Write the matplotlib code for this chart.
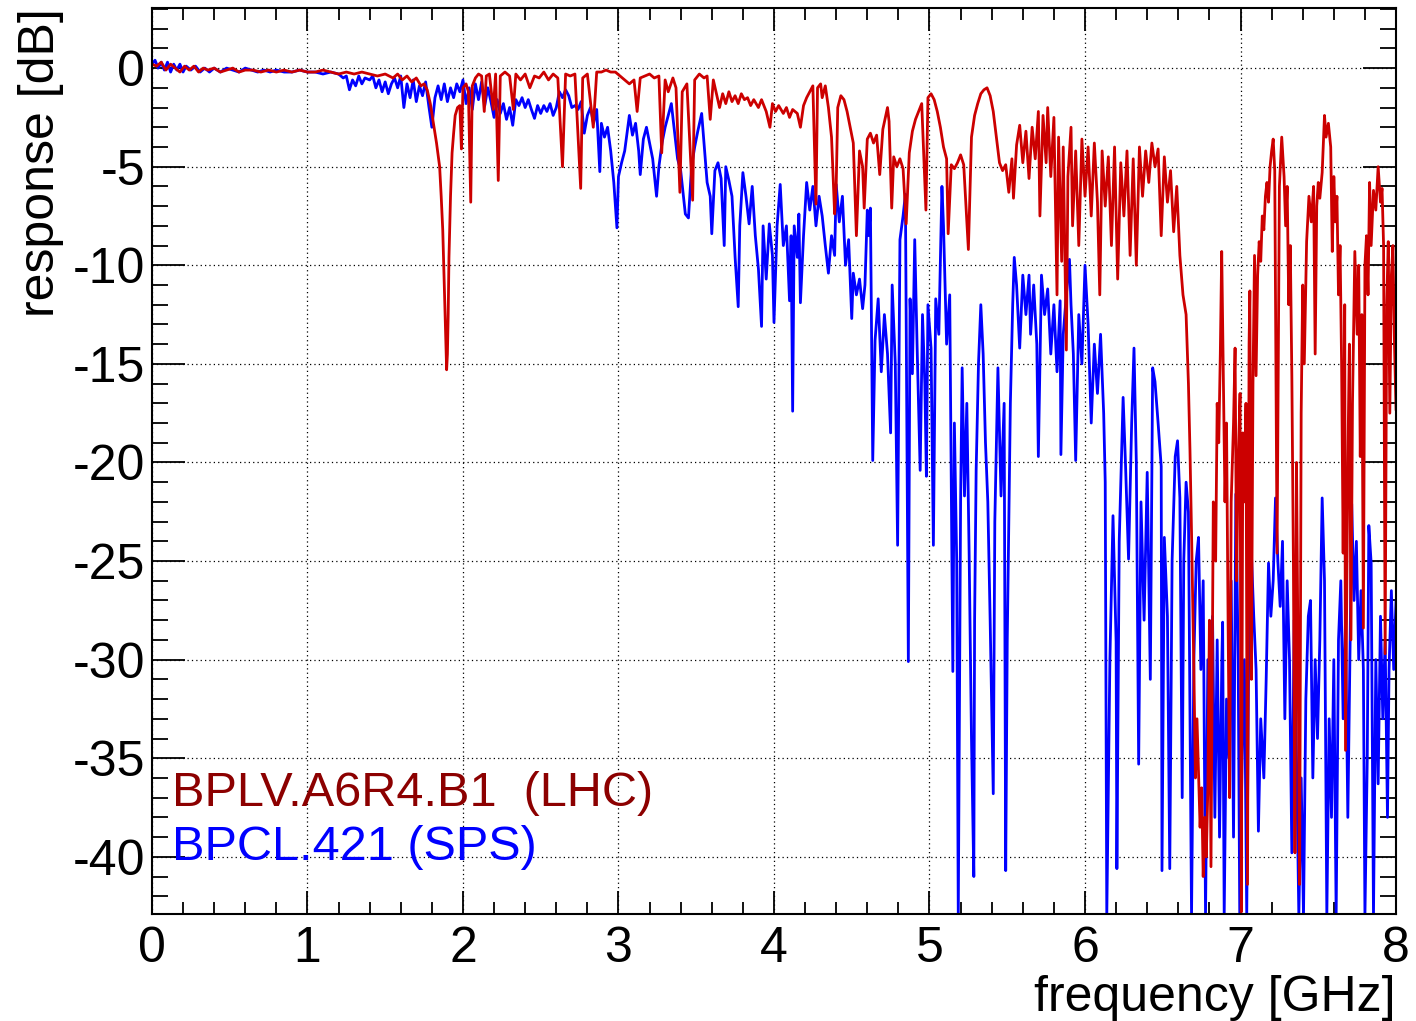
import matplotlib
matplotlib.use("Agg")
import matplotlib.pyplot as plt
from matplotlib.ticker import MultipleLocator

# LHC pick-up response, (frequency [GHz], response [dB])
lhc_points = [
  (0.00, 0.2), (0.03, 0.1), (0.06, 0.3), (0.09, -0.1), (0.12, 0.2), (0.15, 0.0), (0.18, -0.2),
  (0.21, 0.1), (0.24, -0.1), (0.27, 0.1), (0.30, -0.2), (0.33, 0.0), (0.36, -0.1), (0.40, 0.0),
  (0.44, -0.2), (0.48, -0.1), (0.52, 0.0), (0.56, -0.2), (0.60, -0.1), (0.65, -0.1), (0.70, -0.2),
  (0.75, -0.1), (0.80, -0.2), (0.85, -0.1), (0.90, -0.2), (0.95, -0.1), (1.00, -0.2), (1.05, -0.2),
  (1.10, -0.1), (1.15, -0.2), (1.20, -0.3), (1.25, -0.2), (1.30, -0.3), (1.35, -0.2), (1.40, -0.3),
  (1.45, -0.4), (1.50, -0.3), (1.55, -0.5), (1.58, -0.3), (1.61, -0.6), (1.64, -0.4), (1.67, -0.7),
  (1.70, -0.5), (1.73, -0.9), (1.75, -0.8), (1.77, -1.1), (1.79, -1.8), (1.81, -2.8), (1.83, -3.8),
  (1.85, -5.0), (1.86, -6.5), (1.87, -8.2), (1.88, -11.0), (1.89, -13.8), (1.895, -15.3), (1.90, -14.5),
  (1.905, -12.5), (1.91, -9.6), (1.92, -6.5), (1.93, -4.3), (1.94, -3.3), (1.95, -2.4), (1.965, -2.0),
  (1.98, -1.9), (1.99, -4.1), (2.00, -1.0), (2.02, -0.8), (2.035, -1.2), (2.05, -6.8), (2.06, -0.9),
  (2.08, -0.5), (2.10, -0.3), (2.12, -0.4), (2.137, -2.2), (2.15, -0.4), (2.17, -0.3), (2.195, -2.1),
  (2.21, -0.3), (2.227, -5.7), (2.24, -0.4), (2.27, -0.2), (2.30, -0.4), (2.324, -2.1), (2.34, -0.3),
  (2.37, -0.6), (2.40, -0.3), (2.43, -1.0), (2.46, -0.4), (2.49, -0.5), (2.52, -0.2), (2.55, -0.6),
  (2.58, -0.3), (2.61, -0.5), (2.64, -5.0), (2.66, -0.3), (2.69, -0.4), (2.72, -0.3), (2.757, -6.1),
  (2.77, -0.5), (2.80, -0.3), (2.838, -3.0), (2.86, -0.2), (2.89, -0.2), (2.92, -0.1), (2.95, -0.2),
  (2.98, -0.2), (3.01, -0.4), (3.04, -0.6), (3.07, -0.8), (3.10, -0.6), (3.12, -2.2), (3.14, -0.5),
  (3.17, -0.4), (3.20, -0.3), (3.23, -0.5), (3.26, -0.4), (3.278, -4.3), (3.30, -0.6), (3.32, -1.2),
  (3.35, -0.5), (3.37, -1.0), (3.395, -6.3), (3.41, -1.2), (3.44, -0.8), (3.477, -6.7), (3.49, -0.6),
  (3.52, -0.3), (3.55, -0.5), (3.57, -0.4), (3.59, -2.6), (3.61, -0.6), (3.63, -1.3), (3.65, -2.0),
  (3.67, -1.3), (3.69, -1.8), (3.71, -1.2), (3.73, -1.7), (3.75, -1.4), (3.77, -1.8), (3.79, -1.3),
  (3.81, -1.6), (3.83, -1.5), (3.85, -1.9), (3.87, -1.6), (3.90, -2.0), (3.92, -1.6), (3.95, -2.2),
  (3.974, -3.0), (3.99, -1.8), (4.01, -2.2), (4.03, -1.9), (4.06, -2.3), (4.08, -2.0), (4.10, -2.5),
  (4.12, -2.1), (4.15, -2.3), (4.17, -3.0), (4.19, -1.9), (4.21, -1.5), (4.23, -1.2), (4.25, -0.9),
  (4.27, -6.9), (4.28, -1.0), (4.30, -0.8), (4.31, -1.5), (4.33, -0.9), (4.35, -2.0), (4.37, -3.5),
  (4.39, -7.4), (4.40, -6.0), (4.41, -2.0), (4.43, -1.4), (4.45, -1.6), (4.47, -2.2), (4.49, -3.0),
  (4.51, -3.8), (4.53, -8.5), (4.55, -4.2), (4.57, -5.0), (4.58, -7.1), (4.60, -3.6), (4.62, -3.3),
  (4.64, -3.8), (4.66, -3.4), (4.68, -5.4), (4.70, -3.1), (4.73, -2.0), (4.74, -2.7), (4.757, -7.1),
  (4.77, -4.5), (4.79, -5.0), (4.81, -4.6), (4.83, -5.1), (4.85, -7.9), (4.87, -4.3), (4.89, -3.2),
  (4.91, -2.6), (4.93, -2.2), (4.95, -1.8), (4.977, -7.2), (4.99, -1.5), (5.01, -1.3), (5.03, -1.6),
  (5.05, -2.2), (5.07, -3.0), (5.09, -4.0), (5.11, -4.6), (5.12, -8.4), (5.14, -4.9), (5.16, -5.1),
  (5.18, -4.8), (5.20, -4.4), (5.22, -4.9), (5.25, -9.2), (5.27, -3.5), (5.29, -2.4), (5.31, -1.8),
  (5.33, -1.3), (5.35, -1.1), (5.37, -1.0), (5.39, -1.4), (5.41, -2.2), (5.43, -3.5), (5.45, -4.8),
  (5.47, -5.2), (5.49, -4.9), (5.51, -6.3), (5.53, -4.6), (5.54, -6.6), (5.56, -3.9), (5.58, -2.9),
  (5.60, -4.8), (5.62, -3.2), (5.64, -5.6), (5.66, -3.0), (5.68, -4.6), (5.70, -2.2), (5.71, -7.5),
  (5.73, -2.4), (5.75, -4.8), (5.76, -2.0), (5.78, -5.5), (5.80, -2.5), (5.82, -11.5), (5.83, -3.5),
  (5.85, -9.8), (5.86, -4.0), (5.88, -14.3), (5.89, -5.5), (5.91, -3.0), (5.92, -8.0), (5.94, -4.2),
  (5.96, -9.0), (5.98, -3.6), (6.00, -6.5), (6.02, -4.0), (6.04, -7.5), (6.06, -3.8), (6.08, -6.8),
  (6.095, -11.5), (6.11, -4.2), (6.13, -7.0), (6.15, -4.5), (6.17, -9.0), (6.19, -4.0), (6.21, -10.7),
  (6.23, -4.8), (6.25, -7.5), (6.27, -4.2), (6.29, -9.5), (6.31, -4.6), (6.33, -10.0), (6.35, -4.0),
  (6.37, -6.5), (6.39, -4.2), (6.41, -5.8), (6.43, -3.8), (6.45, -5.0), (6.47, -4.1), (6.49, -8.5),
  (6.51, -4.5), (6.53, -6.8), (6.55, -5.2), (6.57, -8.3), (6.59, -6.0), (6.61, -9.5), (6.63, -11.5),
  (6.65, -12.5), (6.665, -16.0), (6.675, -19.4), (6.686, -24.0), (6.70, -30.5), (6.71, -36.0),
  (6.72, -33.0), (6.74, -38.5), (6.75, -36.5), (6.76, -41.0), (6.77, -38.0), (6.78, -40.0),
  (6.79, -36.5), (6.80, -28.0), (6.81, -40.5), (6.825, -22.0), (6.84, -25.0), (6.85, -17.0),
  (6.86, -19.0), (6.87, -14.5), (6.879, -9.3), (6.89, -16.0), (6.90, -22.0), (6.91, -18.0),
  (6.92, -28.0), (6.93, -37.0), (6.94, -22.0), (6.955, -18.0), (6.965, -14.2), (6.975, -26.0),
  (6.985, -20.0), (6.997, -16.5), (7.005, -42.8), (7.015, -18.5), (7.025, -22.0), (7.035, -17.0),
  (7.045, -41.4), (7.055, -14.0), (7.06, -11.3), (7.07, -31.0), (7.08, -16.0), (7.09, -9.5),
  (7.10, -15.6), (7.11, -10.5), (7.12, -8.8), (7.13, -9.8), (7.14, -7.5), (7.15, -8.2), (7.16, -6.5),
  (7.17, -5.8), (7.18, -6.8), (7.19, -5.0), (7.20, -4.2), (7.21, -3.6), (7.22, -5.2), (7.235, -24.6),
  (7.25, -6.0), (7.265, -3.5), (7.28, -5.5), (7.29, -8.0), (7.30, -6.0), (7.31, -12.0), (7.32, -9.0),
  (7.33, -15.6), (7.34, -25.0), (7.35, -39.8), (7.36, -20.0), (7.37, -30.0), (7.38, -41.4),
  (7.39, -17.5), (7.40, -11.0), (7.41, -15.0), (7.425, -8.8), (7.44, -6.5), (7.455, -7.8),
  (7.47, -6.0), (7.48, -14.5), (7.49, -7.0), (7.50, -5.8), (7.51, -6.6), (7.525, -5.3), (7.54, -2.4),
  (7.55, -3.5), (7.565, -2.8), (7.58, -4.0), (7.59, -9.3), (7.60, -5.5), (7.61, -7.8), (7.62, -6.5),
  (7.63, -11.5), (7.64, -9.0), (7.65, -15.0), (7.66, -24.6), (7.67, -12.0), (7.675, -34.6),
  (7.69, -20.0), (7.70, -14.0), (7.71, -29.0), (7.72, -17.0), (7.735, -9.3), (7.75, -13.5),
  (7.76, -10.0), (7.77, -19.7), (7.78, -12.5), (7.79, -28.4), (7.80, -10.0), (7.81, -8.5),
  (7.82, -11.5), (7.83, -5.8), (7.84, -9.0), (7.855, -6.2), (7.87, -7.2), (7.885, -5.0), (7.90, -6.8),
  (7.91, -6.1), (7.92, -9.0), (7.93, -29.7), (7.94, -12.0), (7.95, -8.8), (7.96, -17.5),
  (7.97, -10.5), (7.98, -9.0), (7.99, -14.0), (8.00, -17.3),
]

# SPS pick-up response
sps_points = [
  (0.00, 0.2), (0.02, 0.4), (0.04, 0.0), (0.06, 0.3), (0.08, -0.1), (0.10, 0.3), (0.12, -0.2),
  (0.14, 0.2), (0.16, -0.1), (0.18, 0.2), (0.20, -0.2), (0.22, 0.1), (0.25, -0.1), (0.28, 0.1),
  (0.31, -0.2), (0.34, 0.0), (0.37, -0.2), (0.40, 0.0), (0.44, -0.2), (0.48, 0.0), (0.52, -0.1),
  (0.56, -0.2), (0.60, 0.0), (0.64, -0.1), (0.68, -0.2), (0.72, -0.1), (0.76, -0.2), (0.80, -0.1),
  (0.85, -0.2), (0.90, -0.2), (0.95, -0.1), (1.00, -0.2), (1.05, -0.2), (1.10, -0.3), (1.15, -0.2),
  (1.20, -0.3), (1.23, -0.5), (1.25, -0.4), (1.27, -1.1), (1.29, -0.6), (1.31, -0.9), (1.33, -0.4),
  (1.35, -0.8), (1.37, -0.5), (1.40, -0.6), (1.42, -0.4), (1.44, -1.0), (1.46, -0.6), (1.48, -1.2),
  (1.50, -0.7), (1.52, -1.3), (1.54, -0.8), (1.56, -0.5), (1.58, -1.0), (1.60, -0.4), (1.62, -2.0),
  (1.64, -0.8), (1.66, -1.5), (1.68, -0.6), (1.70, -1.7), (1.72, -0.9), (1.74, -1.4), (1.76, -0.7),
  (1.78, -1.9), (1.80, -3.0), (1.82, -1.5), (1.84, -0.9), (1.86, -1.6), (1.88, -0.8), (1.90, -1.7),
  (1.92, -1.0), (1.94, -1.5), (1.96, -0.8), (1.98, -1.2), (2.00, -0.6), (2.02, -1.8), (2.04, -1.0),
  (2.06, -2.1), (2.08, -0.8), (2.10, -1.6), (2.12, -0.7), (2.14, -1.9), (2.16, -1.0), (2.18, -1.7),
  (2.20, -2.5), (2.22, -1.6), (2.24, -2.3), (2.26, -1.8), (2.28, -2.6), (2.30, -2.0), (2.32, -2.9),
  (2.34, -1.6), (2.36, -1.9), (2.38, -1.5), (2.40, -2.0), (2.42, -1.6), (2.44, -2.1), (2.46, -2.55),
  (2.48, -1.9), (2.50, -2.3), (2.52, -1.9), (2.54, -2.2), (2.56, -1.8), (2.58, -2.4), (2.60, -2.0),
  (2.62, -1.2), (2.64, -1.5), (2.66, -1.1), (2.68, -1.4), (2.70, -2.0), (2.72, -1.9), (2.74, -2.1),
  (2.76, -1.7), (2.78, -3.3), (2.80, -2.4), (2.82, -2.0), (2.84, -2.8), (2.86, -2.1), (2.88, -5.25),
  (2.89, -2.8), (2.91, -3.5), (2.93, -3.0), (2.95, -4.2), (2.97, -5.8), (2.99, -8.1), (3.00, -5.5),
  (3.02, -4.8), (3.04, -4.2), (3.06, -3.0), (3.07, -2.4), (3.09, -3.4), (3.11, -2.8), (3.13, -4.2),
  (3.14, -5.4), (3.16, -3.6), (3.18, -3.0), (3.20, -3.8), (3.22, -4.6), (3.245, -6.5), (3.26, -5.0),
  (3.28, -3.8), (3.30, -3.0), (3.32, -2.4), (3.34, -1.8), (3.36, -3.2), (3.38, -4.6), (3.40, -5.2),
  (3.43, -7.4), (3.45, -7.6), (3.47, -5.0), (3.49, -4.0), (3.51, -3.2), (3.535, -2.3), (3.55, -3.8),
  (3.57, -5.8), (3.59, -6.5), (3.60, -8.4), (3.62, -5.2), (3.64, -4.8), (3.66, -5.6), (3.68, -9.0),
  (3.69, -5.0), (3.71, -5.7), (3.73, -6.5), (3.75, -9.6), (3.77, -12.1), (3.78, -8.0), (3.80, -5.3),
  (3.82, -6.5), (3.84, -7.9), (3.86, -6.0), (3.88, -8.5), (3.90, -10.2), (3.92, -13.1), (3.93, -8.0),
  (3.95, -10.7), (3.97, -7.9), (3.99, -9.5), (4.00, -12.9), (4.02, -8.0), (4.04, -5.9), (4.06, -9.0),
  (4.08, -8.0), (4.10, -11.8), (4.11, -8.5), (4.12, -17.4), (4.13, -8.0), (4.15, -9.6), (4.16, -7.4),
  (4.17, -11.9), (4.19, -8.5), (4.21, -5.8), (4.23, -7.2), (4.25, -6.0), (4.27, -8.0), (4.29, -6.5),
  (4.31, -7.5), (4.33, -9.0), (4.35, -10.4), (4.37, -8.5), (4.39, -9.5), (4.40, -5.9), (4.42, -7.8),
  (4.44, -6.5), (4.46, -10.0), (4.48, -8.7), (4.50, -12.7), (4.51, -10.4), (4.53, -11.5),
  (4.55, -10.7), (4.57, -12.2), (4.585, -11.0), (4.60, -7.2), (4.61, -8.5), (4.62, -7.1),
  (4.635, -19.9), (4.65, -13.8), (4.67, -11.7), (4.69, -15.4), (4.71, -12.5), (4.73, -14.5),
  (4.75, -18.5), (4.76, -11.0), (4.78, -15.0), (4.795, -24.2), (4.81, -8.7), (4.83, -7.5),
  (4.845, -6.4), (4.864, -30.1), (4.875, -11.7), (4.89, -15.5), (4.905, -8.7), (4.92, -14.0),
  (4.94, -20.4), (4.955, -12.5), (4.97, -16.0), (4.98, -20.7), (4.99, -12.0), (5.01, -14.2),
  (5.025, -24.2), (5.04, -11.7), (5.06, -13.5), (5.08, -6.0), (5.09, -8.0), (5.11, -14.0),
  (5.13, -11.5), (5.15, -30.6), (5.16, -18.0), (5.175, -25.0), (5.185, -43.0), (5.20, -22.0),
  (5.21, -15.2), (5.225, -21.7), (5.24, -17.0), (5.255, -24.7), (5.27, -34.0), (5.285, -41.0),
  (5.29, -28.0), (5.30, -20.4), (5.315, -15.0), (5.33, -12.0), (5.345, -14.5), (5.36, -19.0),
  (5.375, -22.0), (5.39, -28.0), (5.41, -36.8), (5.42, -23.0), (5.44, -15.2), (5.46, -21.7),
  (5.48, -17.0), (5.49, -40.7), (5.50, -29.0), (5.52, -17.0), (5.535, -12.0), (5.545, -9.6),
  (5.56, -11.0), (5.58, -14.2), (5.60, -10.5), (5.62, -12.5), (5.64, -10.5), (5.65, -13.5),
  (5.67, -11.0), (5.69, -14.0), (5.70, -19.7), (5.72, -10.5), (5.74, -12.5), (5.76, -11.2),
  (5.78, -14.5), (5.80, -12.0), (5.82, -15.4), (5.84, -11.8), (5.845, -19.6), (5.86, -13.5),
  (5.88, -11.5), (5.90, -9.7), (5.91, -12.0), (5.925, -14.5), (5.94, -19.9), (5.96, -12.5),
  (5.98, -15.0), (6.00, -10.0), (6.02, -13.0), (6.04, -18.0), (6.06, -14.0), (6.08, -16.5),
  (6.10, -13.5), (6.12, -17.5), (6.13, -21.0), (6.14, -43.0), (6.16, -30.0), (6.18, -22.7),
  (6.20, -29.1), (6.205, -40.6), (6.22, -24.0), (6.245, -16.7), (6.26, -20.0), (6.28, -24.9),
  (6.30, -18.0), (6.315, -14.2), (6.33, -20.0), (6.345, -35.3), (6.36, -22.0), (6.38, -28.0),
  (6.40, -20.5), (6.42, -31.0), (6.435, -15.2), (6.45, -15.9), (6.47, -18.0), (6.49, -20.2),
  (6.495, -40.7), (6.51, -23.8), (6.53, -27.8), (6.545, -40.6), (6.56, -25.0), (6.58, -19.7),
  (6.595, -18.9), (6.61, -21.8), (6.625, -37.0), (6.635, -25.0), (6.65, -21.0), (6.665, -22.5),
  (6.685, -43.0), (6.70, -30.0), (6.715, -25.0), (6.73, -23.8), (6.745, -30.5), (6.76, -26.0),
  (6.775, -43.0), (6.79, -30.0), (6.805, -34.0), (6.82, -27.8), (6.835, -38.0), (6.85, -29.0),
  (6.865, -39.0), (6.88, -30.0), (6.885, -28.1), (6.895, -43.0), (6.91, -32.0), (6.925, -35.0),
  (6.94, -26.0), (6.955, -39.0), (6.97, -21.6), (6.985, -30.0), (6.995, -43.0), (7.01, -35.0),
  (7.025, -30.0), (7.04, -43.0), (7.055, -27.0), (7.07, -24.6), (7.085, -27.8), (7.10, -30.5),
  (7.115, -38.7), (7.13, -33.0), (7.15, -36.0), (7.165, -31.0), (7.18, -25.1), (7.195, -27.8),
  (7.21, -26.0), (7.225, -21.8), (7.24, -25.0), (7.255, -27.3), (7.27, -24.0), (7.285, -33.0),
  (7.30, -26.0), (7.315, -30.0), (7.33, -39.8), (7.345, -28.0), (7.36, -35.0), (7.375, -43.0),
  (7.39, -36.0), (7.405, -43.0), (7.42, -32.0), (7.436, -27.8), (7.45, -27.0), (7.465, -36.0),
  (7.48, -30.0), (7.495, -34.0), (7.51, -29.0), (7.525, -21.8), (7.54, -26.0), (7.555, -43.0),
  (7.57, -33.0), (7.585, -38.0), (7.60, -30.0), (7.615, -43.0), (7.63, -29.0), (7.645, -26.0),
  (7.66, -33.0), (7.675, -28.0), (7.69, -38.0), (7.705, -29.0), (7.715, -22.1), (7.73, -27.0),
  (7.745, -24.0), (7.76, -30.0), (7.775, -26.5), (7.79, -30.5), (7.80, -43.0), (7.815, -35.0),
  (7.825, -23.2), (7.84, -25.1), (7.855, -43.0), (7.87, -30.0), (7.885, -36.3), (7.90, -27.8),
  (7.915, -33.0), (7.93, -29.0), (7.945, -38.0), (7.955, -30.5), (7.97, -26.5), (7.985, -30.5),
  (8.00, -27.0),
]

lhc_label = "BPLV.A6R4.B1  (LHC)"
sps_label = "BPCL.421 (SPS)"

plt.rcParams['font.family'] = ['Liberation Sans', 'DejaVu Sans']
plt.rcParams['axes.unicode_minus'] = False

fig = plt.figure(figsize=(14.16, 10.21), dpi=100)
ax  = fig.add_axes([0.1073, 0.1048, 0.8786, 0.8874])

sps_f, sps_db = zip(*sps_points)
lhc_f, lhc_db = zip(*lhc_points)

ax.plot(sps_f, sps_db, color='#0000ff', lw=2.0)
ax.plot(lhc_f, lhc_db, color='#cc0000', lw=2.0)

ax.set_xlim(0, 8)
ax.set_ylim(-42.9, 3.05)

ax.xaxis.set_major_locator(MultipleLocator(1))
ax.xaxis.set_minor_locator(MultipleLocator(0.2))
ax.yaxis.set_major_locator(MultipleLocator(5))
ax.yaxis.set_minor_locator(MultipleLocator(1))

ax.tick_params(which='both', direction='in', top=True, right=True, width=1.3, labelsize=36)
ax.tick_params(axis='x', which='major', length=16.5, pad=9)
ax.tick_params(axis='x', which='minor', length=8.5)
ax.tick_params(axis='y', which='major', length=24, pad=5)
ax.tick_params(axis='y', which='minor', length=11.5)

ax.grid(True, which='major', color='black', linestyle=(0, (1, 2.5)), linewidth=0.9)

for s in ax.spines.values():
  s.set_linewidth(1.5)

ax.set_xlabel("frequency [GHz]", fontsize=36, loc='right', labelpad=2)
ax.set_ylabel("response [dB]", fontsize=36, loc='top')
ax.yaxis.set_label_coords(-0.071, 1.0)

ax.text(0.129, -36.8, lhc_label, color='#8c0000', fontsize=35, va='center', ha='left')
ax.text(0.129, -39.55, sps_label, color='#0000ff', fontsize=35, va='center', ha='left')

fig.savefig("out.png", dpi=100)
